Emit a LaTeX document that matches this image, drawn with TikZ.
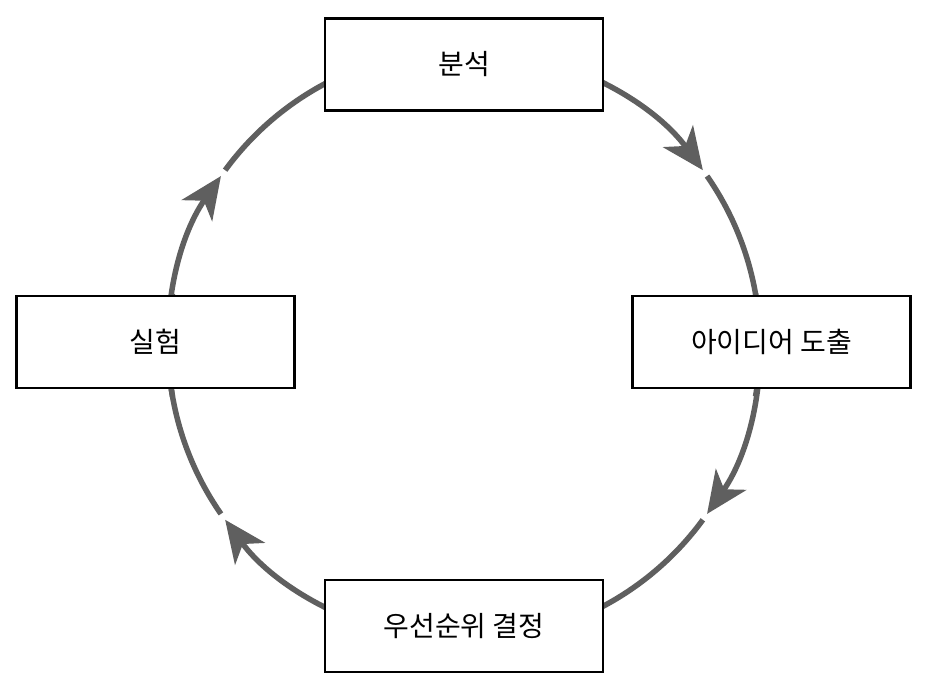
\documentclass[tikz,border=0pt]{standalone}
\usepackage{fontspec}
\setmainfont{Noto Sans CJK KR}
\usetikzlibrary{arrows.meta,backgrounds}
\definecolor{flowgray}{RGB}{95,95,95}
\begin{document}
\begin{tikzpicture}[x=1pt,y=1pt,
  stagebox/.style={draw=black,line width=2.5pt,fill=white,minimum width=278pt,minimum height=92pt,inner sep=0pt,font=\fontsize{28}{32}\selectfont},
  flow/.style={draw=flowgray,line width=5.5pt},
  tip/.style={-{Stealth[length=42pt,width=37pt,inset=12pt]}}]
\useasboundingbox (0,0) rectangle (930,690);
\coordinate (c) at (464,345);
\def\R{296}
\node[stagebox] (a) at (464,625.5) {분석};
\node[stagebox] (b) at (771.5,348) {아이디어 도출};
\node[stagebox] (d) at (464,64) {우선순위 결정};
\node[stagebox] (e) at (155.5,348) {실험};
\begin{pgfonlayer}{background}
\draw[flow,tip] ([shift={(80:\R)}]c) arc[start angle=80,end angle=36.2,radius=\R];
\draw[flow] ([shift={(34.8:\R)}]c) arc[start angle=34.8,end angle=-10,radius=\R];
\draw[flow,tip] ([shift={(10:\R)}]c) arc[start angle=10,end angle=-34.8,radius=\R];
\draw[flow] ([shift={(-36.2:\R)}]c) arc[start angle=-36.2,end angle=-80,radius=\R];
\draw[flow,tip] ([shift={(-100:\R)}]c) arc[start angle=-100,end angle=-143.8,radius=\R];
\draw[flow] ([shift={(-145.2:\R)}]c) arc[start angle=-145.2,end angle=-190,radius=\R];
\draw[flow,tip] ([shift={(190:\R)}]c) arc[start angle=190,end angle=145.2,radius=\R];
\draw[flow] ([shift={(143.8:\R)}]c) arc[start angle=143.8,end angle=100,radius=\R];
\end{pgfonlayer}
\end{tikzpicture}
\end{document}
